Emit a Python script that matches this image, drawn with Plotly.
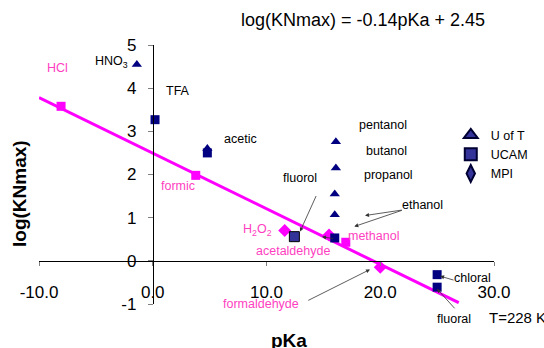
import plotly.graph_objects as go

# ---------------- data ----------------
# U of T (navy triangles): HNO3, acetic, pentanol, butanol, propanol, ethanol
uoft_pka = [-1.4, 4.8, 16.1, 16.1, 16.0, 16.0]
uoft_logk = [4.55, 2.6, 2.76, 2.15, 1.55, 1.07]

# UCAM (navy squares): TFA, acetic, methanol, chloral, fluoral
ucam_pka = [0.2, 4.8, 16.0, 25.0, 25.0]
ucam_logk = [3.27, 2.5, 0.53, -0.32, -0.61]

# UCAM acetaldehyde (outlined square)
ucam2_pka = [12.45]
ucam2_logk = [0.56]

# MPI (magenta diamonds): H2O2, methanol, formaldehyde
mpi_pka = [11.6, 15.5, 20.0]
mpi_logk = [0.70, 0.60, -0.15]

# magenta squares: HCl, formic, methanol
mag_pka = [-8.06, 3.78, 16.97]
mag_logk = [3.58, 1.98, 0.43]

# fit line endpoints
fit_pka = [-10.0, 26.9]
fit_logk = [3.78, -0.97]

x_tickvals = [-10, 0, 10, 20, 30]
x_ticktext = ["-10.0", "0.0", "10.0", "20.0", "30.0"]
y_tickvals = [-1, 0, 1, 2, 3, 4, 5]
y_ticktext = ["-1", "0", "1", "2", "3", "4", "5"]

FONT = "Liberation Sans, Arial, sans-serif"
NAVY = "#000080"
MAG = "#FF00FF"
PINKTXT = "#FF3FBF"
LEG = "#333399"

fig = go.Figure()

fig.add_trace(go.Scatter(x=fit_pka, y=fit_logk, mode="lines",
                         line=dict(color=MAG, width=3), showlegend=False, hoverinfo="skip"))
fig.add_trace(go.Scatter(x=mag_pka, y=mag_logk, mode="markers", showlegend=False,
                         marker=dict(symbol="square", size=9, color=MAG)))
fig.add_trace(go.Scatter(x=mpi_pka, y=mpi_logk, mode="markers", showlegend=False,
                         marker=dict(symbol="diamond", size=10, color=MAG)))
fig.add_trace(go.Scatter(x=ucam_pka, y=ucam_logk, mode="markers", showlegend=False,
                         marker=dict(symbol="square", size=9, color=NAVY)))
fig.add_trace(go.Scatter(x=ucam2_pka, y=ucam2_logk, mode="markers", showlegend=False,
                         marker=dict(symbol="square", size=10, color=LEG,
                                     line=dict(color="#000000", width=1))))
fig.add_trace(go.Scatter(x=uoft_pka, y=uoft_logk, mode="markers", showlegend=False,
                         marker=dict(symbol="triangle-up", size=9, color=NAVY)))

# legend entries
for name, sym in [("U of T", "triangle-up"), ("UCAM", "square"), ("MPI", "diamond-tall")]:
    fig.add_trace(go.Scatter(x=[None], y=[None], mode="markers", name=name,
                             marker=dict(symbol=sym, size=13, color=LEG,
                                         line=dict(color="#000033", width=1))))

ann = []
# black labels (x, y in data units)
black_labels = [
    ("HNO<sub>3</sub>", -3.6, 4.61),
    ("TFA", 2.18, 3.94),
    ("acetic", 7.72, 2.83),
    ("pentanol", 20.27, 3.15),
    ("butanol", 20.55, 2.555),
    ("propanol", 20.73, 1.99),
    ("fluorol", 12.95, 1.92),
    ("ethanol", 23.67, 1.30),
    ("chloral", 28.11, -0.40),
]
for t, x, y in black_labels:
    ann.append(dict(text=t, x=x, y=y, xref="x", yref="y", showarrow=False,
                    font=dict(family=FONT, size=12.5, color="#000000")))

pink_labels = [
    ("HCl", -8.41, 4.47),
    ("formic", 2.18, 1.74),
    ("H<sub>2</sub>O<sub>2</sub>", 9.21, 0.72),
    ("acetaldehyde", 12.31, 0.225),
    ("methanol", 19.37, 0.586),
    ("formaldehyde", 9.48, -0.996),
]
for t, x, y in pink_labels:
    ann.append(dict(text=t, x=x, y=y, xref="x", yref="y", showarrow=False,
                    font=dict(family=FONT, size=12.5, color=PINKTXT)))

# labels below the plotting range (paper coords)
ann.append(dict(text="fluoral", x=(454.3 - 39) / 455, y=(304 - 319) / 259, xref="paper",
                yref="paper", showarrow=False, xanchor="center", yanchor="middle",
                font=dict(family=FONT, size=12.5, color="#000000")))
ann.append(dict(text="T=228 K", x=(487 - 39) / 455, y=(304 - 317) / 259, xref="paper",
                yref="paper", xanchor="left", yanchor="middle", showarrow=False,
                font=dict(family=FONT, size=15, color="#000000")))

# arrows: (head x, head y, tail x, tail y)
arrows = [
    (12.95, 0.679, 14.42, 1.536),
    (18.66, 1.049, 22.03, 1.181),
    (17.72, 0.795, 22.03, 1.181),
    (14.88, 0.556, 16.0, 0.51),
    (19.10, -0.20, 13.54, -0.934),
    (25.26, -0.354, 26.58, -0.456),
    (24.99, -0.65, 26.66, -1.135),
]
for hx, hy, tx, ty in arrows:
    ann.append(dict(text="", x=hx, y=hy, ax=tx, ay=ty, xref="x", yref="y",
                    axref="x", ayref="y", showarrow=True, arrowhead=2, arrowsize=1,
                    arrowwidth=0.8, arrowcolor="#333333", standoff=0, startstandoff=0))

# title and axis titles
ann.append(dict(text="log(KNmax) = -0.14pKa + 2.45", x=0.711, y=1.0965, xref="paper",
                yref="paper", showarrow=False, xanchor="center", yanchor="middle",
                font=dict(family=FONT, size=18, color="#000000")))
ann.append(dict(text="<b>pKa</b>", x=0.549, y=-0.139, xref="paper", yref="paper",
                showarrow=False, xanchor="center", yanchor="middle",
                font=dict(family=FONT, size=19, color="#000000")))
ann.append(dict(text="<b>log(KNmax)</b>", x=-0.0418, y=0.4286, xref="paper", yref="paper",
                showarrow=False, textangle=-90, xanchor="center", yanchor="middle",
                font=dict(family=FONT, size=19, color="#000000")))

fig.update_layout(
    width=544, height=348,
    margin=dict(l=39, r=50, t=45, b=44, autoexpand=False),
    paper_bgcolor="white", plot_bgcolor="white",
    font=dict(family=FONT, size=12, color="#000000"),
    annotations=ann,
    showlegend=True,
    legend=dict(x=0.905, y=0.709, xanchor="left", yanchor="top",
                bgcolor="rgba(0,0,0,0)", font=dict(family=FONT, size=12.5),
                itemsizing="constant", tracegroupgap=0),
    xaxis=dict(range=[-10, 30], anchor="free", position=1/6, showline=True,
               linecolor="#000000", linewidth=1, showgrid=False, zeroline=False,
               ticks="outside", ticklen=4, tickcolor="#808080", tickwidth=1,
               tickvals=x_tickvals, ticktext=x_ticktext, ticklabelstandoff=12,
               automargin=False,
               tickfont=dict(family=FONT, size=17, color="#000000")),
    yaxis=dict(range=[-1, 5], anchor="free", position=0.25, showline=True,
               linecolor="#000000", linewidth=1, showgrid=False, zeroline=False,
               ticks="outside", ticklen=5, tickcolor="#808080", tickwidth=1,
               tickvals=y_tickvals, ticktext=y_ticktext, ticklabelstandoff=8,
               automargin=False,
               tickfont=dict(family=FONT, size=17, color="#000000")),
)

fig.write_html("out.html", config={"displayModeBar": False},
               post_script="document.body.style.margin='0';document.body.style.padding='0';")
